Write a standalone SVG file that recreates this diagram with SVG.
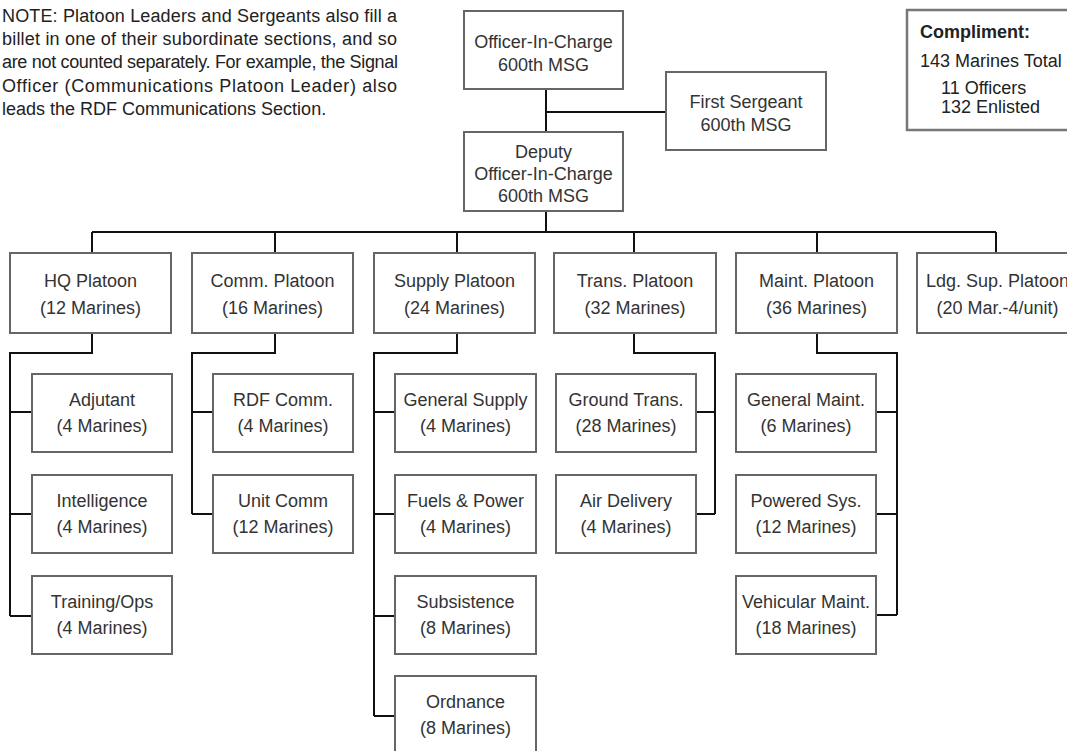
<svg xmlns="http://www.w3.org/2000/svg" width="1067" height="751" viewBox="0 0 1067 751">
<style>
.bx{fill:#fff;stroke:#666;stroke-width:2}
.cb{fill:#fff;stroke:#777;stroke-width:2.5}
.t{font-family:"Liberation Sans",Arial,sans-serif;font-size:18px;fill:#333;text-anchor:middle}
.n{font-family:"Liberation Sans",Arial,sans-serif;font-size:18px;fill:#222}
.c{font-family:"Liberation Sans",Arial,sans-serif;font-size:18px;fill:#222}
.cn{fill:none;stroke:#111;stroke-width:2}
</style>
<rect width="1067" height="751" fill="#fff"/>
<g id="note">
<text class="n" x="2" y="21.5" textLength="395" lengthAdjust="spacing">NOTE: Platoon Leaders and Sergeants also fill a</text>
<text class="n" x="2" y="45" textLength="395" lengthAdjust="spacing">billet in one of their subordinate sections, and so</text>
<text class="n" x="2" y="68" textLength="396" lengthAdjust="spacing">are not counted separately. For example, the Signal</text>
<text class="n" x="2" y="91.5" textLength="395" lengthAdjust="spacing">Officer (Communications Platoon Leader) also</text>
<text class="n" x="2" y="115">leads the RDF Communications Section.</text>
</g>
<g id="connectors">
<path class="cn" d="M546 89V232M546 112H666"/>
<path class="cn" d="M92 232H996M92 232V253M275 232V253M457 232V253M634 232V253M817 232V253M996 232V253"/>
<path class="cn" d="M92 333V353H10V616M10 412H32M10 514H32M10 616H32"/>
<path class="cn" d="M275 333V353H192V514M192 412H213M192 514H213"/>
<path class="cn" d="M457 333V353H374V716M374 412H395M374 514H395M374 616H395M374 716H395"/>
<path class="cn" d="M634 333V353H715V514M696 412H715M696 514H715"/>
<path class="cn" d="M817 333V353H897V615M876 412H897M876 514H897M876 615H897"/>
</g>
<g id="oic"><rect class="bx" x="464" y="11" width="159" height="78"/><text class="t" x="543.5" y="48">Officer-In-Charge</text><text class="t" x="543.5" y="71">600th MSG</text></g>
<g id="first-sergeant"><rect class="bx" x="666" y="72" width="160" height="78"/><text class="t" x="746" y="108">First Sergeant</text><text class="t" x="746" y="130.5">600th MSG</text></g>
<g id="deputy"><rect class="bx" x="464" y="132" width="159" height="79"/><text class="t" x="543.5" y="158">Deputy</text><text class="t" x="543.5" y="180">Officer-In-Charge</text><text class="t" x="543.5" y="202">600th MSG</text></g>
<g id="compliment"><rect class="cb" x="907" y="10" width="170" height="120"/><text class="c" x="920" y="38" font-weight="bold">Compliment:</text><text class="c" x="920" y="67">143 Marines Total</text><text class="c" x="941" y="94" font-size="17.5">11 Officers</text><text class="c" x="941" y="113" font-size="17.5">132 Enlisted</text></g>
<g id="hq-platoon"><rect class="bx" x="10" y="253" width="161" height="80"/><text class="t" x="90.5" y="287">HQ Platoon</text><text class="t" x="90.5" y="314">(12 Marines)</text></g>
<g id="comm-platoon"><rect class="bx" x="192" y="253" width="161" height="80"/><text class="t" x="272.5" y="287">Comm. Platoon</text><text class="t" x="272.5" y="314">(16 Marines)</text></g>
<g id="supply-platoon"><rect class="bx" x="374" y="253" width="161" height="80"/><text class="t" x="454.5" y="287">Supply Platoon</text><text class="t" x="454.5" y="314">(24 Marines)</text></g>
<g id="trans-platoon"><rect class="bx" x="554" y="253" width="162" height="80"/><text class="t" x="635" y="287">Trans. Platoon</text><text class="t" x="635" y="314">(32 Marines)</text></g>
<g id="maint-platoon"><rect class="bx" x="736" y="253" width="161" height="80"/><text class="t" x="816.5" y="287">Maint. Platoon</text><text class="t" x="816.5" y="314">(36 Marines)</text></g>
<g id="ldg-platoon"><rect class="bx" x="917" y="253" width="161" height="80"/><text class="t" x="997.5" y="287">Ldg. Sup. Platoon</text><text class="t" x="997.5" y="314">(20 Mar.-4/unit)</text></g>
<g id="adjutant"><rect class="bx" x="32" y="374" width="140" height="78"/><text class="t" x="102" y="406">Adjutant</text><text class="t" x="102" y="432">(4 Marines)</text></g>
<g id="intelligence"><rect class="bx" x="32" y="475" width="140" height="78"/><text class="t" x="102" y="507">Intelligence</text><text class="t" x="102" y="533">(4 Marines)</text></g>
<g id="training"><rect class="bx" x="32" y="576" width="140" height="78"/><text class="t" x="102" y="608">Training/Ops</text><text class="t" x="102" y="634">(4 Marines)</text></g>
<g id="rdf-comm"><rect class="bx" x="213" y="374" width="140" height="78"/><text class="t" x="283" y="406">RDF Comm.</text><text class="t" x="283" y="432">(4 Marines)</text></g>
<g id="unit-comm"><rect class="bx" x="213" y="475" width="140" height="78"/><text class="t" x="283" y="507">Unit Comm</text><text class="t" x="283" y="533">(12 Marines)</text></g>
<g id="general-supply"><rect class="bx" x="395" y="374" width="141" height="78"/><text class="t" x="465.5" y="406">General Supply</text><text class="t" x="465.5" y="432">(4 Marines)</text></g>
<g id="fuels"><rect class="bx" x="395" y="475" width="141" height="78"/><text class="t" x="465.5" y="507">Fuels &amp; Power</text><text class="t" x="465.5" y="533">(4 Marines)</text></g>
<g id="subsistence"><rect class="bx" x="395" y="576" width="141" height="78"/><text class="t" x="465.5" y="608">Subsistence</text><text class="t" x="465.5" y="634">(8 Marines)</text></g>
<g id="ordnance"><rect class="bx" x="395" y="676" width="141" height="80"/><text class="t" x="465.5" y="708">Ordnance</text><text class="t" x="465.5" y="734">(8 Marines)</text></g>
<g id="ground-trans"><rect class="bx" x="556" y="374" width="140" height="78"/><text class="t" x="626" y="406">Ground Trans.</text><text class="t" x="626" y="432">(28 Marines)</text></g>
<g id="air-delivery"><rect class="bx" x="556" y="475" width="140" height="78"/><text class="t" x="626" y="507">Air Delivery</text><text class="t" x="626" y="533">(4 Marines)</text></g>
<g id="general-maint"><rect class="bx" x="736" y="374" width="140" height="78"/><text class="t" x="806" y="406">General Maint.</text><text class="t" x="806" y="432">(6 Marines)</text></g>
<g id="powered-sys"><rect class="bx" x="736" y="475" width="140" height="78"/><text class="t" x="806" y="507">Powered Sys.</text><text class="t" x="806" y="533">(12 Marines)</text></g>
<g id="vehicular-maint"><rect class="bx" x="736" y="576" width="140" height="78"/><text class="t" x="806" y="608">Vehicular Maint.</text><text class="t" x="806" y="634">(18 Marines)</text></g>
</svg>
